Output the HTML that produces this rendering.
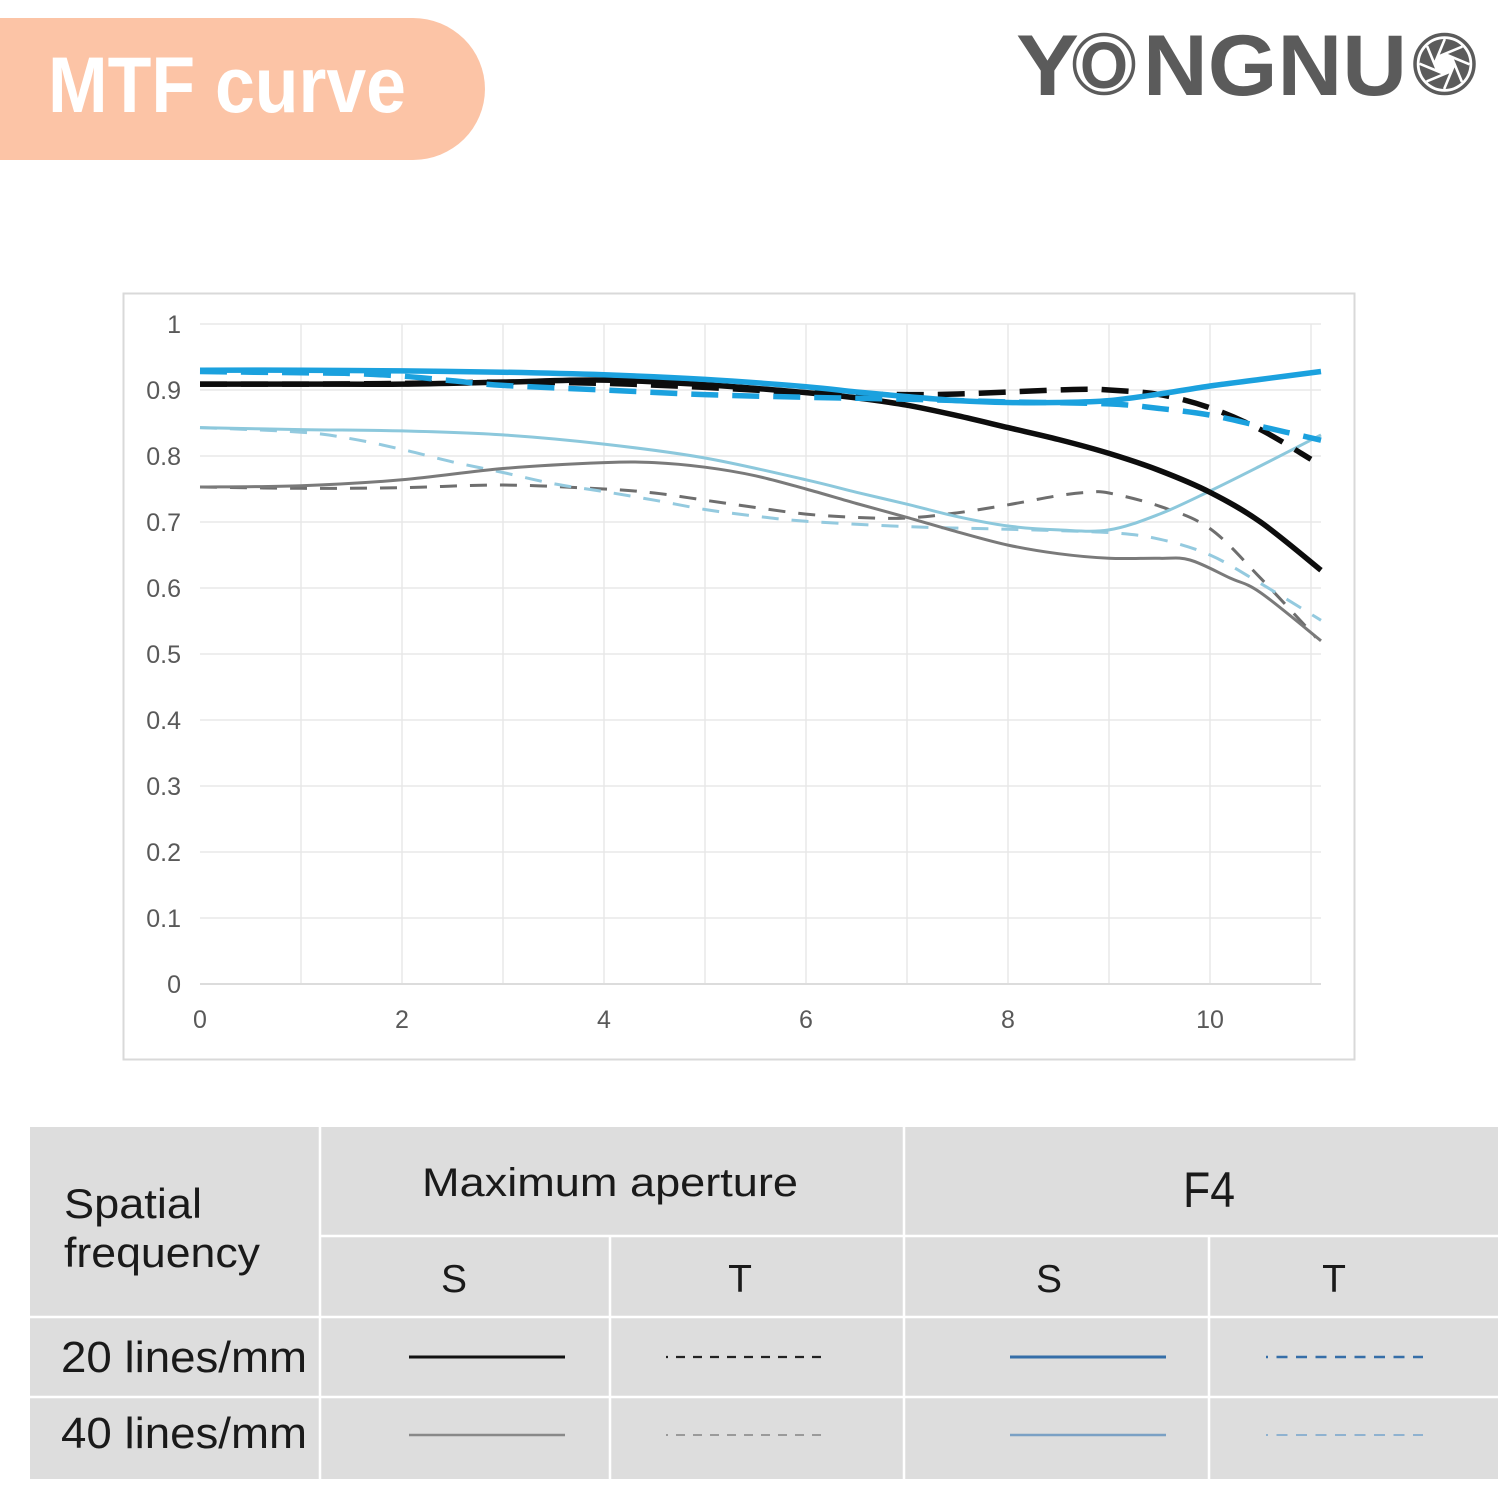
<!DOCTYPE html>
<html><head><meta charset="utf-8"><style>
html,body{margin:0;padding:0;background:#fff;}
svg{display:block;}
</style></head><body>
<svg xmlns="http://www.w3.org/2000/svg" width="1498" height="1498" viewBox="0 0 1498 1498">
<rect width="1498" height="1498" fill="#fff"/>
<!-- header pill -->
<path d="M0,18 H413 A72,71 0 0 1 413,160 H0 Z" fill="#fcc4a6"/>
<text x="48" y="112" font-family="'Liberation Sans',sans-serif" font-weight="bold" font-size="79" fill="#fff" textLength="358" lengthAdjust="spacingAndGlyphs">MTF curve</text>
<!-- logo -->
<g fill="#5b5b5b" font-family="'Liberation Sans',sans-serif" font-weight="bold">
<text x="1016" y="95" font-size="86" textLength="63" lengthAdjust="spacingAndGlyphs">Y</text>
<text x="1080" y="88" font-size="66" textLength="48" lengthAdjust="spacingAndGlyphs">O</text>
<text x="1143" y="95" font-size="86" textLength="264" lengthAdjust="spacingAndGlyphs">NGNU</text>
</g>
<circle cx="1104" cy="64" r="29.5" fill="none" stroke="#5b5b5b" stroke-width="3.5"/>
<g transform="translate(1444.5,64)">
<circle r="29.5" fill="none" stroke="#5b5b5b" stroke-width="3.5"/>
<circle r="25" fill="#5b5b5b"/>
<polygon points="10,0 7.07,7.07 0,10 -7.07,7.07 -10,0 -7.07,-7.07 0,-10 7.07,-7.07" fill="#fff"/>
<g stroke="#fff" stroke-width="2.6">
<line x1="10" y1="0" x2="-0.34" y2="24.97"/>
<line x1="10" y1="0" x2="-0.34" y2="24.97" transform="rotate(45)"/>
<line x1="10" y1="0" x2="-0.34" y2="24.97" transform="rotate(90)"/>
<line x1="10" y1="0" x2="-0.34" y2="24.97" transform="rotate(135)"/>
<line x1="10" y1="0" x2="-0.34" y2="24.97" transform="rotate(180)"/>
<line x1="10" y1="0" x2="-0.34" y2="24.97" transform="rotate(225)"/>
<line x1="10" y1="0" x2="-0.34" y2="24.97" transform="rotate(270)"/>
<line x1="10" y1="0" x2="-0.34" y2="24.97" transform="rotate(315)"/>
</g>
</g>

<!-- chart frame -->
<rect x="123.5" y="293.5" width="1231" height="766" fill="#fff" stroke="#d9d9d9" stroke-width="2"/>
<!-- gridlines -->
<g stroke="#e8e8e8" stroke-width="1.5">
<line x1="200" y1="324" x2="1321" y2="324"/>
<line x1="200" y1="390" x2="1321" y2="390"/>
<line x1="200" y1="456" x2="1321" y2="456"/>
<line x1="200" y1="522" x2="1321" y2="522"/>
<line x1="200" y1="588" x2="1321" y2="588"/>
<line x1="200" y1="654" x2="1321" y2="654"/>
<line x1="200" y1="720" x2="1321" y2="720"/>
<line x1="200" y1="786" x2="1321" y2="786"/>
<line x1="200" y1="852" x2="1321" y2="852"/>
<line x1="200" y1="918" x2="1321" y2="918"/>
<line x1="301" y1="324" x2="301" y2="984"/>
<line x1="402" y1="324" x2="402" y2="984"/>
<line x1="503" y1="324" x2="503" y2="984"/>
<line x1="604" y1="324" x2="604" y2="984"/>
<line x1="705" y1="324" x2="705" y2="984"/>
<line x1="806" y1="324" x2="806" y2="984"/>
<line x1="907" y1="324" x2="907" y2="984"/>
<line x1="1008" y1="324" x2="1008" y2="984"/>
<line x1="1109" y1="324" x2="1109" y2="984"/>
<line x1="1210" y1="324" x2="1210" y2="984"/>
<line x1="1311" y1="324" x2="1311" y2="984"/>
</g>
<line x1="200" y1="984" x2="1321" y2="984" stroke="#dcdcdc" stroke-width="2"/>
<!-- y labels -->
<g font-family="'Liberation Sans',sans-serif" font-size="25" fill="#595959" text-anchor="end">
<text x="181" y="333">1</text>
<text x="181" y="399">0.9</text>
<text x="181" y="465">0.8</text>
<text x="181" y="531">0.7</text>
<text x="181" y="597">0.6</text>
<text x="181" y="663">0.5</text>
<text x="181" y="729">0.4</text>
<text x="181" y="795">0.3</text>
<text x="181" y="861">0.2</text>
<text x="181" y="927">0.1</text>
<text x="181" y="993">0</text>
</g>
<g font-family="'Liberation Sans',sans-serif" font-size="25" fill="#595959" text-anchor="middle">
<text x="200" y="1028">0</text>
<text x="402" y="1028">2</text>
<text x="604" y="1028">4</text>
<text x="806" y="1028">6</text>
<text x="1008" y="1028">8</text>
<text x="1210" y="1028">10</text>
</g>

<!-- curves -->
<g fill="none" stroke-linejoin="round">
<polyline class="s" stroke="#6e6e6e" stroke-width="3" stroke-dasharray="17 13" points="200,487 301,488.3 402,487.7 503,485 604,489 654.5,493 705,500.2 755.5,507.5 806,514.1 856.5,517.4 907,518 957.5,512.8 1008,504.8 1058.5,495.6 1089,492.3 1109,493 1159.5,506.2 1210,528.6 1260.5,578.1 1316,637.5"/>
<polyline class="s" stroke="#94cadf" stroke-width="3" stroke-dasharray="17 13" points="200,427.6 301,432.2 351.5,438.8 402,449.4 452.5,461.9 503,472.5 553.5,483.7 604,491.6 654.5,500.2 705,509.5 755.5,516.1 806,521.3 907,526.6 1008,529.3 1109,532.6 1159.5,539.2 1210,555 1260.5,583.4 1321,620.3"/>
<polyline class="s" stroke="#7a7a7a" stroke-width="3" points="200,487 301,485.7 402,479.8 503,468.5 604,462.6 654.5,462.6 705,467.2 755.5,475.8 806,489 856.5,503.5 907,517.4 957.5,531.9 1008,545.1 1058.5,553.7 1109,558.3 1159.5,558.3 1190,560 1230,578 1260.5,592.6 1321,640.8"/>
<polyline class="s" stroke="#8cc8dc" stroke-width="3" points="200,427.6 301,429.6 402,430.9 503,434.9 604,444.1 705,458 806,479.8 856.5,492.3 907,504.2 957.5,516.7 1008,526 1058.5,529.9 1109,529.9 1159.5,514.1 1210,491 1260.5,465.9 1321,434.9"/>
<polyline class="s" stroke="#0d0d0d" stroke-width="5.5" points="200,384.1 301,384.1 402,384.1 503,382.1 604,380.1 705,384.7 806,392.6 856.5,397.9 907,405.2 957.5,415.7 1008,427.6 1058.5,439.5 1109,453.4 1159.5,470.5 1210,492.3 1260.5,522 1321,570.2"/>
<polyline class="s" stroke="#0d0d0d" stroke-width="5.5" stroke-dasharray="27 14" points="200,384.1 301,384.1 402,383.4 503,382.1 604,383.4 705,387.4 806,392.6 907,394.6 957.5,394 1008,392 1058.5,390 1089,389.3 1109,390 1159.5,394.6 1210,407.8 1260.5,429.6 1311,459.3"/>
<polyline class="s" stroke="#1ba1de" stroke-width="5.5" stroke-dasharray="27 14" points="200,371.5 301,372.8 351.5,373.5 402,376.1 452.5,380.8 503,385.4 604,390 705,394.6 806,397.3 907,399.2 1008,401.9 1109,403.9 1159.5,408.5 1210,415.1 1260.5,426.3 1321,440.2"/>
<polyline class="s" stroke="#1ba1de" stroke-width="5.5" points="200,370.2 301,370.2 402,370.9 503,372.2 604,374.8 705,379.4 806,386.7 856.5,392 907,396.6 957.5,400.6 1008,402.5 1058.5,402.5 1109,400.6 1159.5,394 1210,386 1260.5,379.4 1321,371.5"/>
</g>

<!-- table -->
<rect x="30" y="1127" width="1468" height="352" fill="#dddddd"/>
<g stroke="#fff" stroke-width="2.5">
<line x1="320" y1="1127" x2="320" y2="1479"/>
<line x1="610" y1="1236" x2="610" y2="1479"/>
<line x1="904" y1="1127" x2="904" y2="1479"/>
<line x1="1209" y1="1236" x2="1209" y2="1479"/>
<line x1="320" y1="1236" x2="1498" y2="1236"/>
<line x1="30" y1="1317" x2="1498" y2="1317"/>
<line x1="30" y1="1397" x2="1498" y2="1397"/>
</g>
<g font-family="'Liberation Sans','Noto Sans CJK SC',sans-serif" fill="#1a1a1a">
<text x="64" y="1218" font-size="42" textLength="138" lengthAdjust="spacingAndGlyphs">Spatial</text>
<text x="64" y="1267" font-size="42" textLength="196" lengthAdjust="spacingAndGlyphs">frequency</text>
<text x="422" y="1196" font-size="40" textLength="376" lengthAdjust="spacingAndGlyphs">Maximum aperture</text>
<text x="1183" y="1207" font-size="50" textLength="52" lengthAdjust="spacingAndGlyphs">F4</text>
<text x="454" y="1292" font-size="39" text-anchor="middle">S</text>
<text x="740" y="1292" font-size="39" text-anchor="middle">T</text>
<text x="1049" y="1292" font-size="39" text-anchor="middle">S</text>
<text x="1334" y="1292" font-size="39" text-anchor="middle">T</text>
<text x="61" y="1372" font-size="44" textLength="246" lengthAdjust="spacingAndGlyphs">20 lines/mm</text>
<text x="61" y="1448" font-size="44" textLength="246" lengthAdjust="spacingAndGlyphs">40 lines/mm</text>
</g>
<!-- legend lines -->
<line x1="409" y1="1357" x2="565" y2="1357" stroke="#111" stroke-width="3"/>
<line x1="666" y1="1357" x2="822" y2="1357" stroke="#222" stroke-width="2.2" stroke-dasharray="9 8" stroke-dashoffset="7"/>
<line x1="1010" y1="1357" x2="1166" y2="1357" stroke="#356ea8" stroke-width="3"/>
<line x1="1266" y1="1357" x2="1423" y2="1357" stroke="#356ea8" stroke-width="2.5" stroke-dasharray="11 8.5" stroke-dashoffset="9"/>
<line x1="409" y1="1435" x2="565" y2="1435" stroke="#888" stroke-width="2.5"/>
<line x1="666" y1="1435" x2="822" y2="1435" stroke="#9a9a9a" stroke-width="2" stroke-dasharray="9 8" stroke-dashoffset="7"/>
<line x1="1010" y1="1435" x2="1166" y2="1435" stroke="#7aa0c4" stroke-width="2.5"/>
<line x1="1266" y1="1435" x2="1423" y2="1435" stroke="#8fb2d0" stroke-width="2" stroke-dasharray="11 8.5" stroke-dashoffset="9"/>
</svg>
<script>
(function(){
var pls=document.querySelectorAll('polyline.s');
for(var k=0;k<pls.length;k++){
var pl=pls[k];
var nums=pl.getAttribute('points').trim().split(/[\s,]+/).map(Number);
var p=[];for(var i=0;i<nums.length;i+=2)p.push([nums[i],nums[i+1]]);
var d='M'+p[0][0]+','+p[0][1];
for(var i=0;i<p.length-1;i++){
var p0=p[i-1]||p[i],p1=p[i],p2=p[i+1],p3=p[i+2]||p2;
var c1x=p1[0]+(p2[0]-p0[0])/6,c1y=p1[1]+(p2[1]-p0[1])/6;
var c2x=p2[0]-(p3[0]-p1[0])/6,c2y=p2[1]-(p3[1]-p1[1])/6;
d+=' C'+c1x.toFixed(2)+','+c1y.toFixed(2)+' '+c2x.toFixed(2)+','+c2y.toFixed(2)+' '+p2[0]+','+p2[1];
}
var path=document.createElementNS('http://www.w3.org/2000/svg','path');
for(var j=0;j<pl.attributes.length;j++){var a=pl.attributes[j];if(a.name!=='points'&&a.name!=='class')path.setAttribute(a.name,a.value);}
path.setAttribute('d',d);
pl.parentNode.replaceChild(path,pl);
}
})();
</script>
</body></html>
